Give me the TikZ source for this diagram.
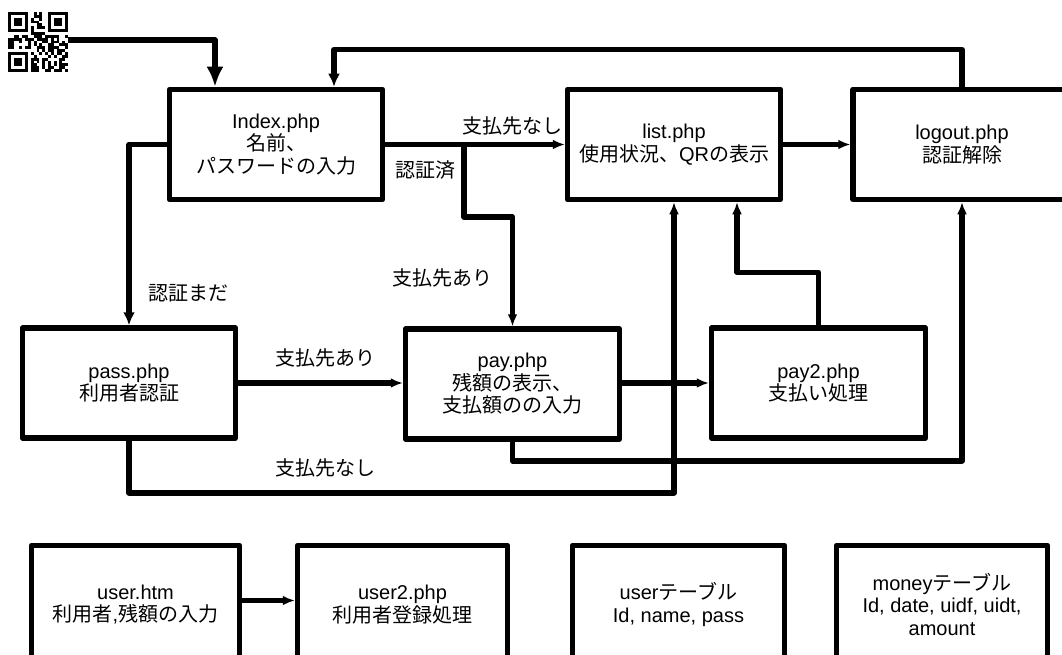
\documentclass[tikz,border=0pt]{standalone}
\usepackage{fontspec}
\setmainfont{Liberation Sans}
\newfontfamily\cjk{Noto Sans CJK JP}
\newcommand{\J}[1]{{\cjk #1}}
\usetikzlibrary{arrows.meta}
\tikzset{
  box/.style={draw, line width=5.5pt, line join=round, minimum width=213pt, minimum height=110pt, align=center, inner sep=0pt},
  conn/.style={line width=5.5pt, line join=round},
  tipS/.style={-{Latex[length=12pt,width=10pt]}},
  tipM/.style={-{Latex[length=13pt,width=12pt]}},
  tipL/.style={-{Latex[length=20pt,width=17pt]}},
  lbl/.style={inner sep=0pt},
}
\begin{document}
\begin{tikzpicture}[x=1pt,y=-1pt,font=\fontsize{20}{22.5}\selectfont]
\useasboundingbox (0,0) rectangle (1062,655);
\fill[white] (0,0) rectangle (1062,655);

% QR code
\node[minimum size=60pt, inner sep=0pt, outer sep=0pt] (qr) at (38,42) {};
\begin{scope}[shift={(8,12)}]
  \def\m{2.857}
  \pgfmathsetseed{5}
  \foreach \i in {0,...,20}{
    \foreach \j in {0,...,20}{
      \pgfmathtruncatemacro\qfill{and(rnd>0.42, !((\i<8 && \j<8) || (\i>12 && \j<8) || (\i<8 && \j>12)))}
      \ifnum\qfill=1 \fill ({\i*\m},{\j*\m}) rectangle ++(\m,\m);\fi
    }
  }
  \foreach \cx/\cy in {0/0,14/0,0/14}{
    \fill ({\cx*\m},{\cy*\m}) rectangle ++({7*\m},{7*\m});
    \fill[white] ({(\cx+1)*\m},{(\cy+1)*\m}) rectangle ++({5*\m},{5*\m});
    \fill ({(\cx+2)*\m},{(\cy+2)*\m}) rectangle ++({3*\m},{3*\m});
  }
\end{scope}

% boxes
\node[box] (idx) at (276,144.5) {Index.php\\\J{名前、}\\\J{パスワードの入力}};
\node[box] (list) at (674,144.5) {list.php\\\J{使用状況、}QR\J{の表示}};
\node[box, minimum width=218pt] (logout) at (962,144.5) {logout.php\\\J{認証解除}};
\node[box] (pass) at (129,383) {pass.php\\\J{利用者認証}};
\node[box, minimum width=214pt] (pay) at (512.5,384) {pay.php\\\J{残額の表示、}\\\J{支払額のの入力}};
\node[box, minimum width=214pt] (pay2) at (818.5,383) {pay2.php\\\J{支払い処理}};
\node[box, minimum width=208pt, minimum height=118pt] (user) at (135.5,604.5) {user.htm\\\J{利用者},\J{残額の入力}};
\node[box, minimum width=210pt, minimum height=118pt] (user2) at (402.5,604.5) {user2.php\\\J{利用者登録処理}};
\node[box, minimum width=212pt, minimum height=118pt] (utab) at (678.5,604.5) {user\J{テーブル}\\Id, name, pass};
\node[box, minimum width=211pt, minimum height=118pt] (mtab) at (942,604.5) {money\J{テーブル}\\Id, date, uidf, uidt,\\amount};

% connectors
\draw[conn, tipL] ([yshift=2pt]qr.east) -| ([xshift=-61pt]idx.north);
\draw[conn, tipM] (logout.north) -- ++(0,-37) -| ([xshift=58pt]idx.north);
\draw[conn, tipS] (idx.east) -- (list.west);
\draw[conn, tipS] (list.east) -- (logout.west);
\coordinate (br) at (464,144.5);
\draw[conn, tipS] (br) -- (464,217) -| (pay.north);
\draw[conn, tipM] (idx.west) -| (pass.north);
\draw[conn, tipS] (pass.east) -- ([yshift=1pt]pay.west);
\draw[conn, tipS] ([yshift=1pt]pay.east) -- (pay2.west);
\draw[conn, tipS] (pass.south) -- ++(0,52) -| (list.south);
\draw[conn, tipS] (pay.south) -- ++(0,19) -| (logout.south);
\draw[conn, tipS] (pay2.north) -- ++(0,-53) -| ([xshift=63pt]list.south);
\draw[conn, tipS] ([yshift=4pt]user.east) -- ([yshift=4pt]user2.west);

% labels
\node[lbl] (l1) at (512,126) {\J{支払先なし}};
\node[lbl] (l2) at (425,170) {\J{認証済}};
\node[lbl] (l3) at (442,278) {\J{支払先あり}};
\node[lbl] (l4) at (188,293) {\J{認証まだ}};
\node[lbl] (l5) at (325,358) {\J{支払先あり}};
\node[lbl] (l6) at (325,468) {\J{支払先なし}};
\end{tikzpicture}
\end{document}
